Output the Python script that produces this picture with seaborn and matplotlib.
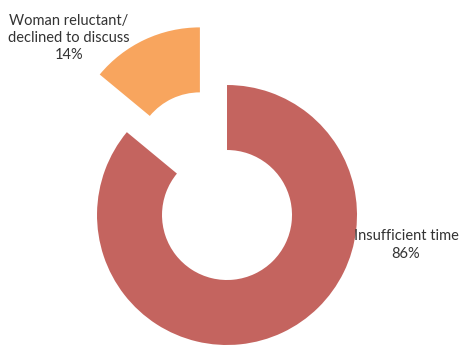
import matplotlib
matplotlib.use("Agg")
import matplotlib.pyplot as plt
import seaborn as sns

# data
categories = ["Insufficient time", "Woman reluctant/\ndeclined to discuss"]
shares = [86, 14]
colors = ["#C4645F", "#F8A55E"]

sns.set_theme(style="white")
plt.rcParams['font.family'] = ['Lato', 'DejaVu Sans']

fig = plt.figure(figsize=(4.6, 3.45), dpi=100)
ax = fig.add_axes([0, 0, 1, 1])

ax.pie(shares, colors=colors, startangle=90, counterclock=False,
       explode=[0, 0.49], radius=1.0,
       wedgeprops=dict(width=0.5, linewidth=0))

# labels placed beside the slices
label_pos = [(1.377, -0.231), (-1.215, 1.362)]
for cat, val, (x, y) in zip(categories, shares, label_pos):
    ax.text(x, y, f"{cat}\n{val}%", ha="center", va="center",
            fontsize=10.5, color="#333333", linespacing=1.3)

ax.set_xlim(-1.746, 1.792)
ax.set_ylim(-1.0, 1.654)
ax.set_aspect("equal")
ax.axis("off")

fig.savefig("out.png", dpi=100)
